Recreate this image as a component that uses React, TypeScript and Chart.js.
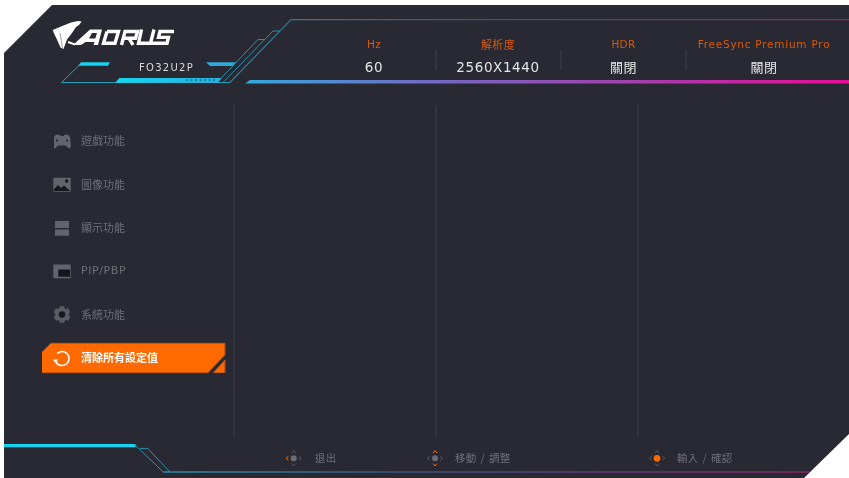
import React, { useEffect, useRef } from "react";
import { Chart, registerables } from "chart.js";

Chart.register(...registerables);

type P = { x: number; y: number };
const pts = (a: number[][]): P[] => a.map(([x, y]) => ({ x, y }));

// ---- text content ----
const sidebarLabels = ["遊戲功能", "圖像功能", "顯示功能", "PIP/PBP", "系統功能"];
const sidebarRows = [141, 185, 228, 271.5, 315];
const selectedLabel = "清除所有設定值";
const modelName = "FO32U2P";
const headerLabels = ["Hz", "解析度", "HDR", "FreeSync Premium Pro"];
const headerValues = ["60", "2560X1440", "關閉", "關閉"];
const headerCenters = [374, 498, 623.5, 764];
const footerLabels = ["退出", "移動 / 調整", "輸入 / 確認"];
const footerLabelStarts = [315, 455, 677];

// ---- outlines ----
const panel = [[4, 53], [52, 5], [849, 5], [849, 434], [804, 478], [4, 478]];
const topThin = [[217, 82.5], [230, 82.5], [291, 19.7], [849, 19.7]];
const step2 = [[223, 82.5], [273, 31], [280, 31]];
const step3 = [[217, 82.5], [258, 39.5], [265, 39.5]];
const bracket = [[230, 82.5], [61.5, 82.5], [81, 63.5]];
const bracketTop = [[81, 62.3], [110, 62.3], [108, 65.7], [78.5, 65.7]];
const bracketBar = [[115, 82.8], [119.5, 78], [221.7, 78], [218, 82.8]];
const rightBar = [[206, 62.3], [236, 62.3], [232.5, 66], [210, 66]];
const headerBand = [[245, 83.5], [250, 80], [849, 80], [849, 83.5]];
const barDots = [[187, 80], [191.5, 80], [196, 80], [200.5, 80], [205, 80], [209.5, 80], [214, 80]];
const headerSeps = [436, 561, 686];
const columnSeps = [234, 436, 638];
const selected = [[42, 352.3], [51, 343.3], [224.7, 343.3], [224.7, 355], [208, 372.7], [42, 372.7]];
const selectedTab = [[213.3, 372.7], [224.7, 360.5], [224.7, 372.7]];
const footCyan = [[4, 444], [135, 444], [136.5, 445.7], [135, 447.3], [4, 447.3]];
const footDiag1 = [[134.3, 444.3], [163.3, 472]];
const footDiag2 = [[140, 448.4], [147.7, 448.4], [170, 472]];
const footLine = [[163.3, 472], [809, 472]];

const eagle = [[52.7, 30], [61, 26.5], [71, 22.5], [78, 21], [81.7, 21.5], [79, 25], [76, 27], [72, 33], [67, 39.5], [63.5, 49], [60.5, 47.5], [56.5, 38.5], [54, 33.5]];
const eagleTail = [[68, 42], [75, 44.5]];
const logoA = [[73, 45], [90, 29.5], [102, 29.5], [98, 45], [93.5, 45], [94.5, 42], [85.5, 42], [81, 45]];
const logoAHole = [[89, 38.5], [95.3, 38.5], [97, 33], [92, 33]];
const logoO = [[107, 31.5], [118.5, 31.5], [115, 43.2], [103.5, 43.2], [107, 31.5]];
const logoR1 = [[121.5, 45], [125, 31.5], [137.5, 31.5], [135.5, 38.3], [124, 38.3]];
const logoR2 = [[129, 38.3], [133, 45]];
const logoU = [[141.5, 29.5], [138.5, 43.2], [150.5, 43.2], [154, 29.5]];
const logoS = [[174, 31.5], [160, 31.5], [158.5, 37.4], [168.5, 37.4], [167, 43.2], [152, 43.2]];

const gamepad = [[56, 134.5], [60, 135], [60.5, 136], [63.5, 136], [64, 135], [68, 134.5], [70, 137], [71, 147], [69, 148.5], [65.5, 145.5], [58.5, 145.5], [55, 148.5], [53, 147], [54, 137]];
const gamepadDots = [[57, 140.5], [67, 140.5]];
const picture = [[53.3, 177.7], [70.7, 177.7], [70.7, 191.7], [53.3, 191.7]];
const mountains = [[53.8, 191], [53.8, 189.5], [58, 185], [61, 188], [64, 185.5], [70.2, 191]];
const pictureSun = [[66.7, 181]];
const dispTop = [[55, 221], [69, 221], [69, 228], [55, 228]];
const dispBottom = [[55, 229.5], [69, 229.5], [69, 235.7], [55, 235.7]];
const pipOuter = [[53.3, 264.5], [70.7, 264.5], [70.7, 278.3], [53.3, 278.3]];
const pipInner = [[58.3, 269.5], [70, 269.5], [70, 276.8], [58.3, 276.8]];
const gear = [[59.8, 306.2], [64.2, 306.2], [65.2, 309.2], [68, 308], [70.2, 311.9], [68.4, 314.5], [70.2, 317.1], [68, 321], [65.2, 319.8], [64.2, 322.8], [59.8, 322.8], [58.8, 319.8], [56, 321], [53.8, 317.1], [55.6, 314.5], [53.8, 311.9], [56, 308], [58.8, 309.2]];
const gearHole = [[62, 314.5]];
const refreshArc = [[57, 353.5], [62, 351.5], [67, 353.5], [69, 358.5], [67, 363.5], [62, 365.5], [57.5, 364], [55.5, 360.5]];
const refreshHead = [[52.8, 359.5], [58.2, 359.5], [55.5, 363]];

const padCenters = [293.7, 435, 657];
const padY = 458.3;

const C = {
  panel: "#282932", sep: "#363741", grey: "#62636d", dark: "#15161b",
  text: "#6e6f77", orange: "#ff6a00", label: "#d95a0c", value: "#e6e6e8", cyan: "#15d3ee",
  teal: "#2c8ea8", bar: "#2fa8d8",
};

function makeDatasets(ctx: CanvasRenderingContext2D) {
  const grad = (x0: number, x1: number, stops: [number, string][]) => {
    const g = ctx.createLinearGradient(x0, 0, x1, 0);
    stops.forEach(([s, c]) => g.addColorStop(s, c));
    return g;
  };
  const thinGrad = grad(230, 849, [[0, "#35809e"], [0.3, "#3f5a80"], [0.65, "#5c3a72"], [1, "#8a2670"]]);
  const bandGrad = grad(245, 849, [[0, "#35a8dc"], [0.32, "#7468c4"], [0.65, "#a53eae"], [1, "#ea0c98"]]);
  const barGrad = grad(115, 222, [[0, "#14d8f0"], [1, "#2aaede"]]);
  const footGrad = grad(163, 809, [[0, "#2c8ea8"], [0.4, "#3c4f78"], [1, "#8a2468"]]);

  const base = { showLine: true, pointRadius: 0, tension: 0, clip: false as const, parsing: false as const };
  const fillShape = (a: number[][], color: any, border: any = "transparent") => ({
    ...base, data: pts(a), fill: "shape", backgroundColor: color, borderColor: border, borderWidth: border === "transparent" ? 0 : 1,
  });
  const stroke = (a: number[][], color: any, w = 1, tension = 0) => ({
    ...base, data: pts(a), fill: false, borderColor: color, borderWidth: w, tension, borderJoinStyle: "miter" as const,
  });
  const dot = (a: number[][], color: string, r: number, style = "circle") => ({
    ...base, showLine: false, data: pts(a), pointRadius: r, pointStyle: style, backgroundColor: color, borderColor: color, borderWidth: 0,
  });

  const list: any[] = [
    fillShape(panel, C.panel),
    ...headerSeps.map((x) => stroke([[x, 50], [x, 70]], C.sep, 1)),
    ...columnSeps.map((x) => stroke([[x, 105], [x, 437]], C.sep, 1.5)),
    stroke(topThin, thinGrad, 1.2),
    stroke(step2, C.teal, 1),
    stroke(step3, C.teal, 1),
    stroke(bracket, "#1f9fb8", 1),
    fillShape(bracketTop, C.cyan),
    fillShape(bracketBar, barGrad),
    dot(barDots, "#1a5f78", 1.1, "rect"),
    fillShape(rightBar, C.bar),
    fillShape(headerBand, bandGrad),
    // logo
    fillShape(eagle, "#ffffff"),
    stroke([[60, 33], [62.5, 48]], "#8a8a90", 0.8),
    stroke(eagleTail, "#ffffff", 2),
    fillShape(logoA, "#ffffff"),
    fillShape(logoAHole, C.panel),
    stroke(logoO, "#ffffff", 3.4),
    stroke(logoR1, "#ffffff", 3.4),
    stroke(logoR2, "#ffffff", 3.4),
    stroke(logoU, "#ffffff", 3.4),
    stroke(logoS, "#ffffff", 3.4),
    // sidebar icons
    fillShape(gamepad, C.grey),
    dot(gamepadDots, C.dark, 1.2, "rect"),
    fillShape(picture, C.grey),
    fillShape(mountains, C.dark),
    dot(pictureSun, C.dark, 1.7),
    fillShape(dispTop, C.grey),
    fillShape(dispBottom, C.grey),
    fillShape(pipOuter, C.grey),
    fillShape(pipInner, C.dark),
    fillShape(gear, "#5a5b65"),
    dot(gearHole, C.dark, 3.2),
    // selected item
    fillShape(selected, C.orange, "#c9560c"),
    fillShape(selectedTab, C.orange, "#c9560c"),
    stroke(refreshArc, "#ffffff", 1.6, 0.4),
    fillShape(refreshHead, "#ffffff"),
    // footer
    fillShape(footCyan, C.cyan),
    stroke(footDiag1, "#2796b0", 1),
    stroke(footDiag2, "#2796b0", 1),
    stroke(footLine, footGrad, 1.3),
  ];
  // four-way pad symbols: index 0 = left lit, 1 = up/down lit, 2 = centre lit
  padCenters.forEach((cx, i) => {
    const on = C.orange, off = "#585962";
    const cy = padY;
    list.push(stroke([[cx - 5.3, cy - 2], [cx - 7.7, cy], [cx - 5.3, cy + 2]], i === 0 ? on : off, 1));
    list.push(stroke([[cx + 5.3, cy - 2], [cx + 7.7, cy], [cx + 5.3, cy + 2]], off, 1));
    list.push(stroke([[cx - 2, cy - 5.3], [cx, cy - 7.7], [cx + 2, cy - 5.3]], i === 1 ? on : off, 1));
    list.push(stroke([[cx - 2, cy + 5.3], [cx, cy + 7.7], [cx + 2, cy + 5.3]], i === 1 ? on : off, 1));
    list.push(dot([[cx, cy]], i === 2 ? on : "#6b6c76", i === 2 ? 3.4 : 3));
  });
  // Chart.js paints the first dataset last, so flip the list to keep painter's order.
  return list.reverse();
}

const CJK = '"Noto Sans CJK TC"';
const LAT = '"DejaVu Sans", "Noto Sans CJK TC"';

const textPlugin = {
  id: "osdText",
  afterDatasetsDraw(chart: any) {
    const { ctx, scales } = chart;
    const put = (s: string, x: number, y: number, font: string, color: string, align: CanvasTextAlign = "left", ls = "0px", ws = "0px") => {
      ctx.save();
      ctx.font = font;
      ctx.fillStyle = color;
      ctx.textAlign = align;
      ctx.textBaseline = "middle";
      (ctx as any).letterSpacing = ls;
      (ctx as any).wordSpacing = ws;
      ctx.fillText(s, scales.x.getPixelForValue(x), scales.y.getPixelForValue(y));
      ctx.restore();
    };
    put(modelName, 166.5, 68, `10px ${LAT}`, "#d9d9dc", "center", "1.3px");
    headerLabels.forEach((s, i) => {
      const cjk = i === 1;
      put(s, headerCenters[i], cjk ? 45 : 45.5, `${cjk ? 11 : 10.5}px ${cjk ? CJK : LAT}`, C.label, "center", i === 3 ? "0.75px" : "0.3px");
    });
    headerValues.forEach((s, i) => {
      const cjk = i >= 2;
      put(s, headerCenters[i], cjk ? 67.5 : 68.5, `${cjk ? 13 : 13.5}px ${cjk ? CJK : LAT}`, C.value, "center", cjk ? "0.6px" : "0.6px");
    });
    sidebarLabels.forEach((s, i) => put(s, 81, sidebarRows[i], `11px ${i === 3 ? LAT : CJK}`, C.text, "left", i === 3 ? "0.6px" : "0px"));
    put(selectedLabel, 81, 358, `bold 11px ${CJK}`, "#ffffff");
    footerLabels.forEach((s, i) => put(s, footerLabelStarts[i], 458, `10.5px ${CJK}`, C.text, "left", "0.2px", "1.6px"));
  },
};

export default function App() {
  const ref = useRef<HTMLCanvasElement>(null);
  useEffect(() => {
    const canvas = ref.current!;
    const chart = new Chart(canvas, {
      type: "scatter",
      data: { datasets: makeDatasets(canvas.getContext("2d")!) },
      options: {
        animation: false,
        responsive: false,
        devicePixelRatio: 1,
        layout: { padding: 0, autoPadding: false },
        plugins: { legend: { display: false }, tooltip: { enabled: false }, title: { display: false } },
        events: [],
        scales: {
          x: { type: "linear", min: 0, max: 849, display: false },
          y: { type: "linear", min: 0, max: 478, reverse: true, display: false },
        },
      },
      plugins: [textPlugin],
    } as any);
    return () => chart.destroy();
  }, []);
  return (
    <div style={{ position: "fixed", left: 0, top: 0, width: 849, height: 478, background: "#fff" }}>
      <canvas ref={ref} width={849} height={478} style={{ display: "block" }} />
    </div>
  );
}
